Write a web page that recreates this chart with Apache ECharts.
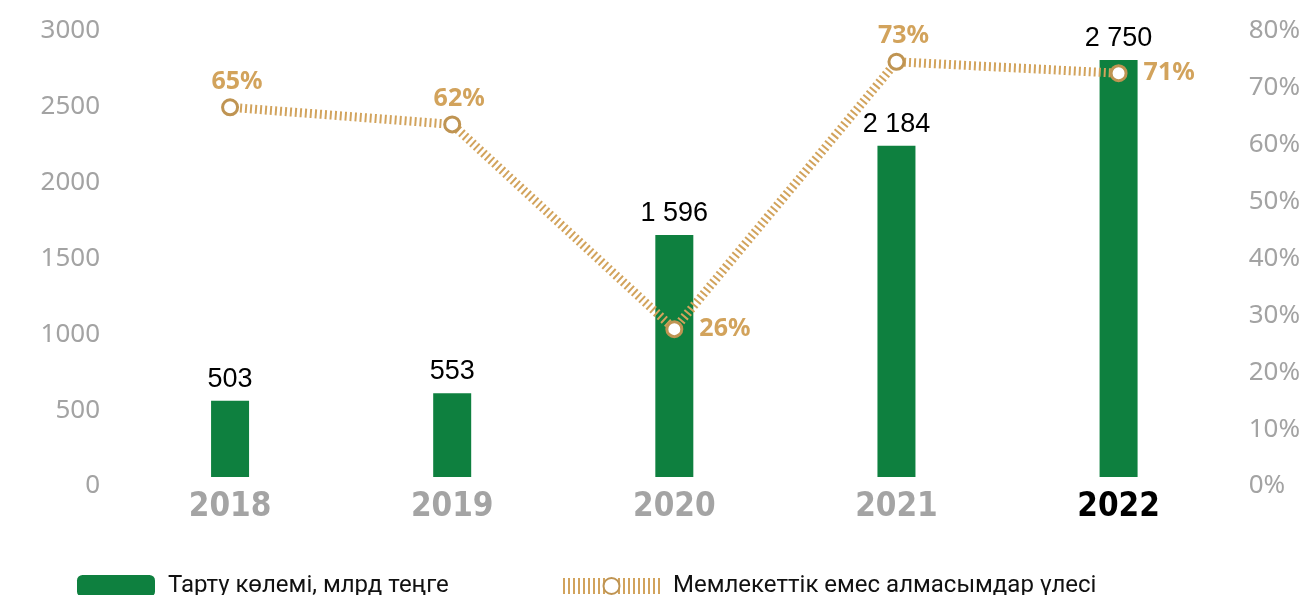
<!DOCTYPE html>
<html>
<head>
<meta charset="utf-8">
<script src="https://cdn.jsdelivr.net/npm/echarts@6/dist/echarts.min.js"></script>
<style>
  html, body { margin: 0; padding: 0; background: #fff; }
  #chart { width: 1303px; height: 595px; }
</style>
</head>
<body>
<div id="chart"></div>
<script>
// данные
var years = ['2018', '2019', '2020', '2021', '2022'];
var volume = [503, 553, 1596, 2184, 2750];
var share = [65, 62, 26, 73, 71];
var shareLabelPos = ['top', 'top', 'right', 'top', 'right'];
var volumeName = 'Тарту көлемі, млрд теңге';
var shareName = 'Мемлекеттік емес алмасымдар үлесі';

var green = '#0e803f';
var gold = '#d2a35c';

function spaced(v) {
  return String(v).replace(/\B(?=(\d{3})+(?!\d))/g, ' ');
}

// подписи осей чуть ниже делений, как в оригинале
var axisRich = {
  v: {
    fontFamily: 'Noto Sans',
    fontSize: 26,
    color: '#a3a3a3',
    padding: [18, 0, 0, 0]
  }
};

var legendText = { fontFamily: 'Roboto', fontSize: 24, color: '#111', padding: [0, 0, 0, 8] };

var chart = echarts.init(document.getElementById('chart'));

var option = {
  animation: false,
  grid: {
    left: 119,
    right: 72,
    top: 22,
    bottom: 118
  },
  legend: [{
    left: 77,
    top: 574,
    padding: 0,
    itemWidth: 78,
    itemHeight: 22,
    data: [volumeName],
    itemStyle: { borderRadius: 0 },
    textStyle: legendText
  }, {
    left: 555,
    top: 574,
    padding: 0,
    itemWidth: 97,
    itemHeight: 20,
    data: [shareName],
    lineStyle: { width: 16, type: [2, 3] },
    textStyle: legendText
  }],
  xAxis: {
    type: 'category',
    data: years.map(function (y, i) {
      return i === years.length - 1 ? { value: y, textStyle: { color: '#000' } } : y;
    }),
    axisLine: { show: false },
    axisTick: { show: false },
    axisLabel: {
      margin: 14,
      fontFamily: 'DejaVu Sans Condensed',
      fontWeight: 'bold',
      fontSize: 33,
      color: '#a4a4a4'
    }
  },
  yAxis: [{
    type: 'value',
    min: 0,
    max: 3000,
    interval: 500,
    splitLine: { show: false },
    axisLine: { show: false },
    axisTick: { show: false },
    axisLabel: {
      margin: 19,
      formatter: function (v) { return '{v|' + v + '}'; },
      rich: axisRich
    }
  }, {
    type: 'value',
    min: 0,
    max: 80,
    interval: 10,
    splitLine: { show: false },
    axisLine: { show: false },
    axisTick: { show: false },
    axisLabel: {
      margin: 19,
      formatter: function (v) { return '{v|' + v + '%}'; },
      rich: axisRich
    }
  }],
  series: [{
    name: volumeName,
    type: 'bar',
    barWidth: 38,
    itemStyle: { color: green },
    label: {
      show: true,
      position: 'top',
      distance: 8,
      fontFamily: 'Liberation Sans',
      fontSize: 27,
      color: '#000',
      formatter: function (p) { return spaced(p.value); }
    },
    data: volume
  }, {
    name: shareName,
    type: 'line',
    yAxisIndex: 1,
    symbol: 'circle',
    symbolSize: 15,
    itemStyle: { color: '#fff', borderColor: '#bf9452', borderWidth: 3 },
    lineStyle: { color: gold, width: 9, type: [2, 3] },
    data: share.map(function (v, i) {
      return {
        value: v,
        label: {
          position: shareLabelPos[i],
          distance: shareLabelPos[i] === 'right' ? 16 : 4,
          offset: shareLabelPos[i] === 'right' ? [0, 0] : [7, 0]
        }
      };
    }),
    label: {
      show: true,
      fontFamily: 'Noto Sans',
      fontWeight: 'bold',
      fontSize: 25,
      color: gold,
      formatter: '{c}%'
    }
  }]
};

chart.setOption(option);
window.onresize = chart.resize;
</script>
</body>
</html>
